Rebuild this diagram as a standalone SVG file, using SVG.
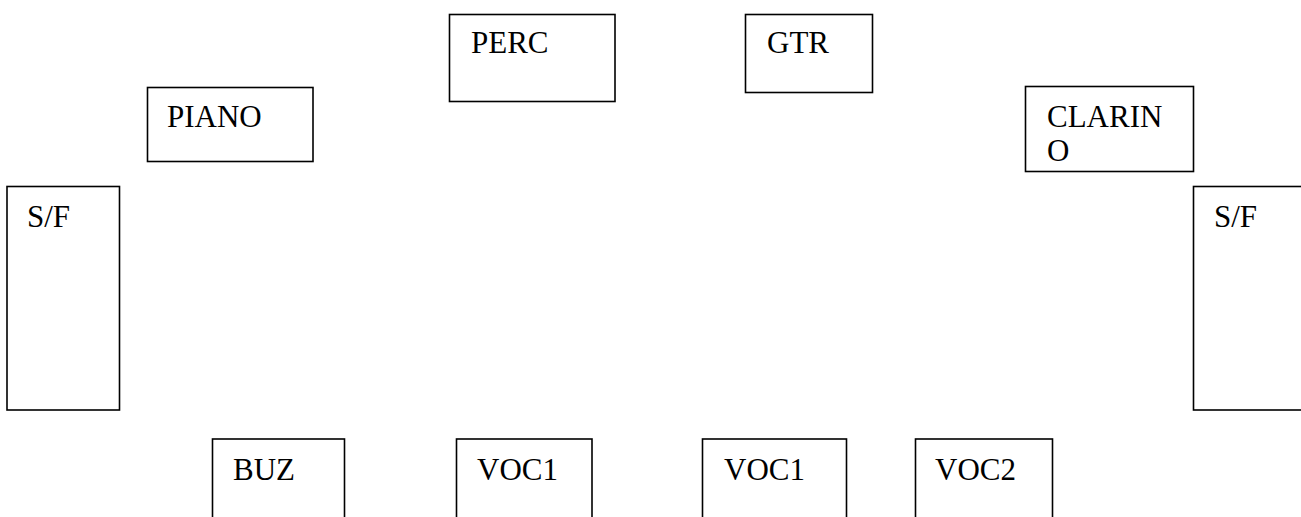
<svg xmlns="http://www.w3.org/2000/svg" width="1301" height="517" viewBox="0 0 1301 517">
<style>
.box{fill:#fff;stroke:#000;stroke-width:1.6}
</style>
<rect width="1301" height="517" fill="#fff"/>
<g id="connectors"></g>
<g font-family="Liberation Serif, Times New Roman, DejaVu Serif, serif" font-size="31" fill="#000">
<g id="piano"><rect class="box" x="147.5" y="87.5" width="165.5" height="74"/><text x="167" y="126.5">PIANO</text></g>
<g id="perc"><rect class="box" x="449.5" y="14.5" width="165.5" height="87"/><text x="471" y="52.5">PERC</text></g>
<g id="gtr"><rect class="box" x="745.5" y="14.5" width="127" height="78"/><text x="767" y="52.5">GTR</text></g>
<g id="clarino"><rect class="box" x="1025.5" y="86.5" width="168" height="85"/><text x="1047" y="126.5">CLARIN</text><text x="1047" y="161">O</text></g>
<g id="sf-left"><rect class="box" x="7" y="186.5" width="112.5" height="223.5"/><text x="27" y="227">S/F</text></g>
<g id="sf-right"><rect class="box" x="1193.5" y="186.5" width="120" height="223.5"/><text x="1214" y="227">S/F</text></g>
<g id="buz"><rect class="box" x="212.5" y="439" width="132" height="100"/><text x="233" y="480">BUZ</text></g>
<g id="voc1a"><rect class="box" x="456.5" y="439" width="135.5" height="100"/><text x="477" y="480">VOC1</text></g>
<g id="voc1b"><rect class="box" x="702.5" y="439" width="144" height="100"/><text x="724" y="480">VOC1</text></g>
<g id="voc2"><rect class="box" x="915.5" y="439" width="137" height="100"/><text x="935" y="480">VOC2</text></g>
</g>
</svg>
